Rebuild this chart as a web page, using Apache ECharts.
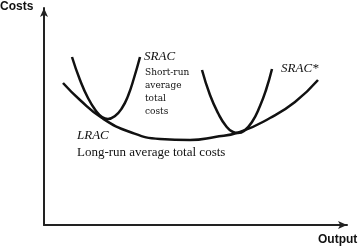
<!DOCTYPE html>
<html><head><meta charset="utf-8">
<script src="https://cdn.jsdelivr.net/npm/echarts@6/dist/echarts.min.js"></script>
<style>html,body{margin:0;padding:0;background:#fff}#c{width:360px;height:250px}</style>
</head><body><div id="c"></div>
<script>
// Output (x) and cost (y) values
const sracX = [28,36,44,52,58,64,71,78,84,90,96];
const sracY = [168,145,127,114,108,106,109,117,129,147,168];
const lracX = [19,36,58,86,116,146,171,196,226,251,274];
const lracY = [142,125,107,93,86,85,88,93,107,123,145];
const srac2X = [158,166,174,182,189,194,200,208,216,222,228];
const srac2Y = [155,130,112,99,93,92,94,103,119,135,156];
const zip = (a,b)=>a.map((v,i)=>[v,b[i]]);

const chart = echarts.init(document.getElementById('c'));
const lineStyle = {color:'#111', width:2.5};
const axisLine = {show:true, lineStyle:{color:'#222', width:2}, symbol:['none','arrow'], symbolSize:[6,9]};
chart.setOption({
  animation:false,
  grid:{left:44, right:13, top:8, bottom:25},
  xAxis:{type:'value', min:0, max:303, axisLine:axisLine, axisTick:{show:false}, axisLabel:{show:false}, splitLine:{show:false}},
  yAxis:{type:'value', min:0, max:217, axisLine:axisLine, axisTick:{show:false}, axisLabel:{show:false}, splitLine:{show:false}},
  series:[
    {type:'line', data:zip(sracX,sracY), smooth:true, showSymbol:false, lineStyle:lineStyle},
    {type:'line', data:zip(lracX,lracY), smooth:true, showSymbol:false, lineStyle:lineStyle},
    {type:'line', data:zip(srac2X,srac2Y), smooth:true, showSymbol:false, lineStyle:lineStyle}
  ],
  graphic:[
    {type:'text', left:0, top:1, style:{text:'Costs', font:'bold 12px "Liberation Sans", Arial', fill:'#111'}},
    {type:'text', left:318, top:234, style:{text:'Output', font:'bold 12px "Liberation Sans", Arial', fill:'#111'}},
    {type:'text', left:144, top:50, style:{text:'SRAC', font:'italic 13px "Liberation Serif", serif', fill:'#111'}},
    {type:'text', left:145, top:66, style:{text:'Short-run\naverage\ntotal\ncosts', font:'9px "DejaVu Serif", serif', lineHeight:13, fill:'#111'}},
    {type:'text', left:281, top:62, style:{text:'SRAC*', font:'italic 13px "Liberation Serif", serif', fill:'#111'}},
    {type:'text', left:77, top:129, style:{text:'LRAC', font:'italic 13px "Liberation Serif", serif', fill:'#111'}},
    {type:'text', left:77, top:146, style:{text:'Long-run average total costs', font:'13px "Liberation Serif", serif', fill:'#111'}}
  ]
});
</script></body></html>
